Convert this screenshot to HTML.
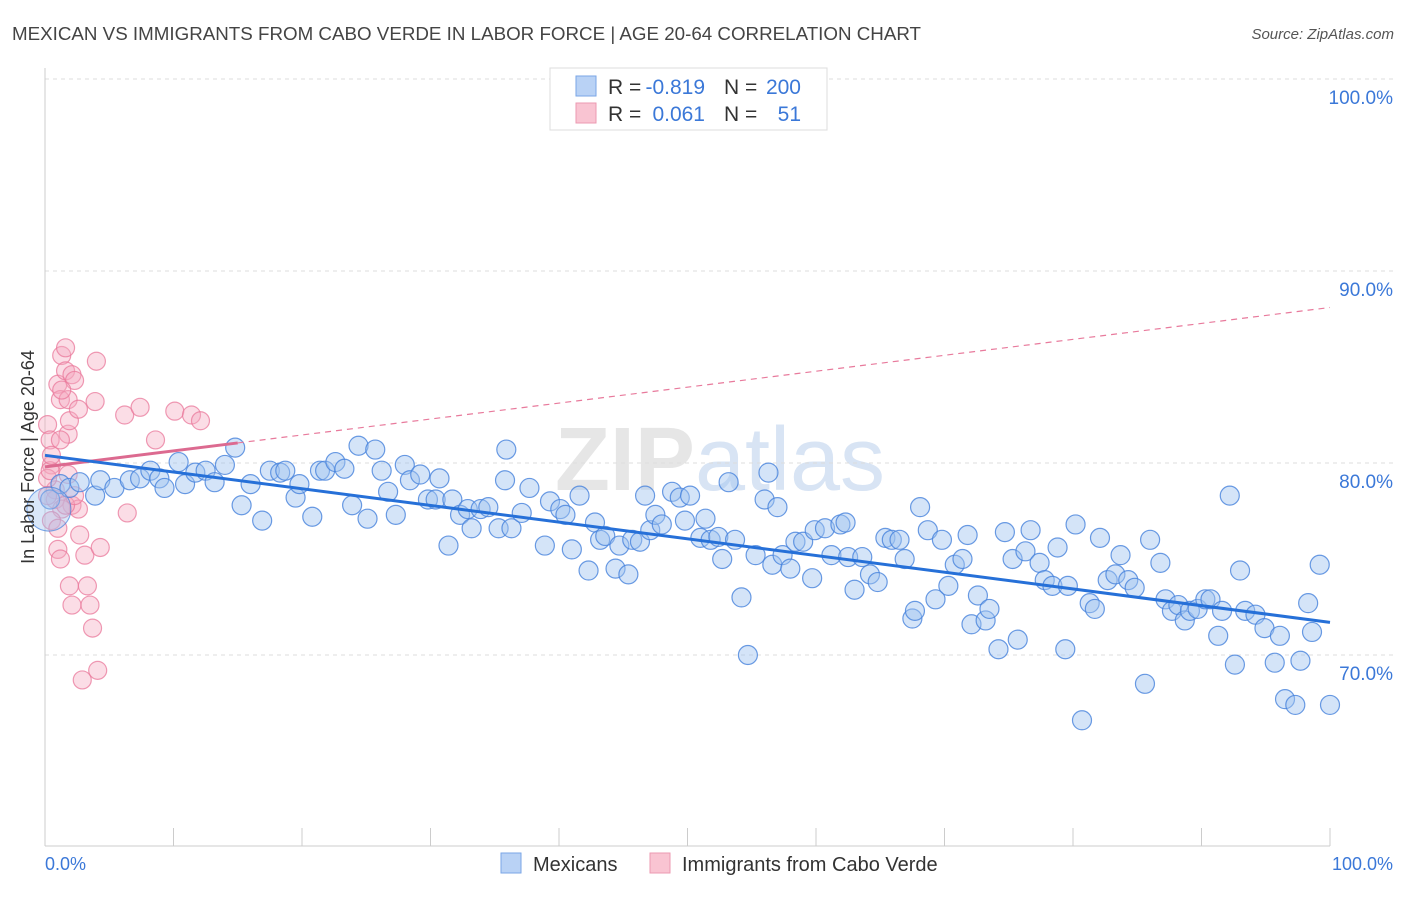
<!DOCTYPE html>
<html><head><meta charset="utf-8"><style>
body{margin:0;background:#fff;font-family:"Liberation Sans",sans-serif;}
svg text{font-family:"Liberation Sans",sans-serif;}
</style></head><body>
<svg id="chart" width="1406" height="892">
<text x="12" y="40" font-size="18" fill="#444" textLength="909" lengthAdjust="spacingAndGlyphs">MEXICAN VS IMMIGRANTS FROM CABO VERDE IN LABOR FORCE | AGE 20-64 CORRELATION CHART</text>
<text x="1394" y="39" font-size="15" fill="#555" text-anchor="end" font-style="italic">Source: ZipAtlas.com</text>
<text x="720" y="490" font-size="90" fill="#e6e6e6" text-anchor="middle" font-weight="bold">ZIP<tspan fill="#d8e4f4" font-weight="normal">atlas</tspan></text>
<g id="grid"></g>
<line x1="45" y1="68" x2="45" y2="846" stroke="#ccc"/>
<line x1="45" y1="846" x2="1330" y2="846" stroke="#ccc"/>
<g id="xticks"></g>
<g id="pink"></g><g id="blue"></g><g id="trends"></g>
<text transform="translate(34,457) rotate(-90)" font-size="18" fill="#333" text-anchor="middle">In Labor Force | Age 20-64</text>
<text x="45" y="870" font-size="18" fill="#3b78d8">0.0%</text>
<text x="1393" y="870" font-size="18" fill="#3b78d8" text-anchor="end">100.0%</text>
<g font-size="21">
<rect x="550" y="68" width="277" height="62" fill="#fff" stroke="#ddd"/>
<rect x="576" y="76" width="20" height="20" fill="#b9d2f5" stroke="#7aa6e6"/>
<rect x="576" y="103" width="20" height="20" fill="#f9c4d2" stroke="#ec9ab1"/>
<text x="608" y="94" fill="#333">R =</text>
<text x="705" y="94" fill="#3b78d8" text-anchor="end">-0.819</text>
<text x="724" y="94" fill="#333">N =</text>
<text x="801" y="94" fill="#3b78d8" text-anchor="end">200</text>
<text x="608" y="121" fill="#333">R =</text>
<text x="705" y="121" fill="#3b78d8" text-anchor="end">0.061</text>
<text x="724" y="121" fill="#333">N =</text>
<text x="801" y="121" fill="#3b78d8" text-anchor="end">51</text>
</g>
<g>
<rect x="501" y="853" width="20" height="20" fill="#b9d2f5" stroke="#7aa6e6"/>
<text x="533" y="871" font-size="20" fill="#333">Mexicans</text>
<rect x="650" y="853" width="20" height="20" fill="#f9c4d2" stroke="#ec9ab1"/>
<text x="682" y="871" font-size="20" fill="#333">Immigrants from Cabo Verde</text>
</g>
</svg>
<script>
const yTicks=[100,90,80,70];
const xTickVals=[0,10,20,30,40,50,60,70,80,90,100];
const blueX=[0.4,1.2,1.9,2.7,3.9,4.3,5.4,6.6,7.4,8.2,8.9,9.3,10.4,10.9,11.7,12.5,13.2,14.0,14.8,15.3,16.0,16.9,17.5,18.3,18.7,19.5,19.8,20.8,21.4,21.8,22.6,23.3,23.9,24.4,25.1,25.7,26.2,26.7,27.3,28.0,28.4,29.2,29.8,30.4,30.7,31.4,31.7,32.3,32.9,33.2,33.9,34.5,35.3,35.8,35.9,36.3,37.1,37.7,38.9,39.3,40.1,40.5,41.0,41.6,42.3,42.8,43.2,43.6,44.4,44.7,45.4,45.7,46.3,46.7,47.1,47.5,48.0,48.8,49.4,49.8,50.2,51.0,51.4,51.8,52.4,52.7,53.2,53.7,54.2,54.7,55.3,56.0,56.3,56.6,57.0,57.4,58.0,58.4,59.0,59.7,59.9,60.7,61.2,61.9,62.3,62.5,63.0,63.6,64.2,64.8,65.4,65.9,66.5,66.9,67.5,67.7,68.1,68.7,69.3,69.8,70.3,70.8,71.4,71.8,72.1,72.6,73.2,73.5,74.2,74.7,75.3,75.7,76.3,76.7,77.4,77.8,78.4,78.8,79.4,79.6,80.2,80.7,81.3,81.7,82.1,82.7,83.3,83.7,84.3,84.8,85.6,86.0,86.8,87.2,87.7,88.2,88.7,89.1,89.7,90.3,90.7,91.3,91.6,92.2,92.6,93.0,93.4,94.2,94.9,95.7,96.1,96.5,97.3,97.7,98.3,98.6,99.2,100];
const blueY=[78.1,78.9,78.7,79.0,78.3,79.1,78.7,79.1,79.2,79.6,79.2,78.7,80.05,78.9,79.5,79.6,79.0,79.9,80.8,77.8,78.9,77.0,79.6,79.5,79.6,78.2,78.9,77.2,79.6,79.6,80.05,79.7,77.8,80.9,77.1,80.7,79.6,78.5,77.3,79.9,79.1,79.4,78.1,78.1,79.2,75.7,78.1,77.3,77.6,76.6,77.6,77.7,76.6,79.1,80.7,76.6,77.4,78.7,75.7,78.0,77.6,77.3,75.5,78.3,74.4,76.9,76.0,76.2,74.5,75.7,74.2,76.0,75.9,78.3,76.5,77.3,76.8,78.5,78.2,77.0,78.3,76.1,77.1,76.0,76.15,75.0,79.0,76.0,73.0,70.0,75.2,78.1,79.5,74.7,77.7,75.2,74.5,75.9,75.9,74.0,76.5,76.6,75.2,76.8,76.9,75.1,73.4,75.1,74.2,73.8,76.1,76.0,76.0,75.0,71.9,72.3,77.7,76.5,72.9,76.0,73.6,74.7,75.0,76.25,71.6,73.1,71.8,72.4,70.3,76.4,75.0,70.8,75.4,76.5,74.8,73.9,73.6,75.6,70.3,73.6,76.8,66.6,72.7,72.4,76.1,73.9,74.2,75.2,73.9,73.5,68.5,76.0,74.8,72.9,72.3,72.6,71.8,72.3,72.4,72.9,72.9,71.0,72.3,78.3,69.5,74.4,72.3,72.1,71.4,69.6,71.0,67.7,67.4,69.7,72.7,71.2,74.7,67.4];
const pinkX=[0.2,0.4,0.5,0.8,1.0,1.2,1.3,1.6,1.6,1.8,1.9,2.1,2.3,2.1,2.6,2.7,1.0,1.2,1.9,2.1,2.9,3.1,3.3,3.5,3.7,3.9,4.0,4.1,4.3,6.2,6.4,7.4,8.6,10.1,11.4,12.1,0.2,0.4,0.5,0.8,1.2,1.3,1.6,0.2,2.3,1.8,0.5,1.0,1.8,2.6,1.3];
const pinkY=[82.0,81.2,79.9,78.6,84.1,83.3,85.6,86.0,84.8,81.5,82.2,84.6,84.3,77.8,77.6,76.25,75.5,75.0,73.6,72.6,68.7,75.2,73.6,72.6,71.4,83.2,85.3,69.2,75.6,82.5,77.4,82.9,81.2,82.7,82.5,82.2,79.2,79.6,80.4,78.1,81.2,77.6,77.8,78.3,78.3,79.4,77.0,76.6,83.3,82.8,83.8];
const blueTrend=[80.4,71.7];
const pinkTrend=[79.8,88.1];
const NS='http://www.w3.org/2000/svg';
const X=v=>45+v*12.85;
const Y=v=>79+(100-v)*19.2;
function mk(t,a,p){const e=document.createElementNS(NS,t);for(const k in a)e.setAttribute(k,a[k]);document.getElementById(p).appendChild(e);return e;}
yTicks.forEach(t=>{
 const l=mk('line',{x1:45,x2:1393,y1:Y(t),y2:Y(t),stroke:'#ddd','stroke-dasharray':'4,4'},'grid');
 
 
 const tx=mk('text',{x:1393,y:Y(t)+25,'font-size':19,fill:'#3b78d8','text-anchor':'end'},'grid');
 tx.textContent=t.toFixed(1)+'%';
 
 
});
xTickVals.forEach(t=>{
 const l=mk('line',{x1:X(t),x2:X(t),y1:828,y2:846,stroke:'#ccc'},'xticks');
 
 
});
pinkX.forEach((x,i)=>{
 const c=mk('circle',{cx:X(x),cy:Y(pinkY[i]),r:9,fill:'rgba(246,170,192,0.4)',stroke:'rgba(234,120,155,0.75)','stroke-width':1.2},'pink');
 
 
});
blueX.forEach((x,i)=>{
 const c=mk('circle',{cx:X(x),cy:Y(blueY[i]),r:9.5,fill:'rgba(160,195,240,0.45)',stroke:'rgba(70,130,220,0.8)','stroke-width':1.2},'blue');
 
 
});
const big=mk('circle',{cx:X(0.3),cy:Y(77.6),r:22,fill:'rgba(160,195,240,0.4)',stroke:'rgba(70,130,220,0.7)'},'blue');


const pinkMid=pinkTrend[0]+(pinkTrend[1]-pinkTrend[0])*0.15;
const pd=mk('line',{x1:X(15),y1:Y(pinkMid),x2:X(100),y2:Y(pinkTrend[1]),stroke:'#e87a9c','stroke-width':1.2,'stroke-dasharray':'6,5'},'trends');


const ps=mk('line',{x1:X(0),y1:Y(pinkTrend[0]),x2:X(15),y2:Y(pinkMid),stroke:'#dc6a90','stroke-width':3},'trends');


const bt=mk('line',{x1:X(0),y1:Y(blueTrend[0]),x2:X(100),y2:Y(blueTrend[1]),stroke:'#2670d8','stroke-width':3},'trends');


</script>
</body></html>
